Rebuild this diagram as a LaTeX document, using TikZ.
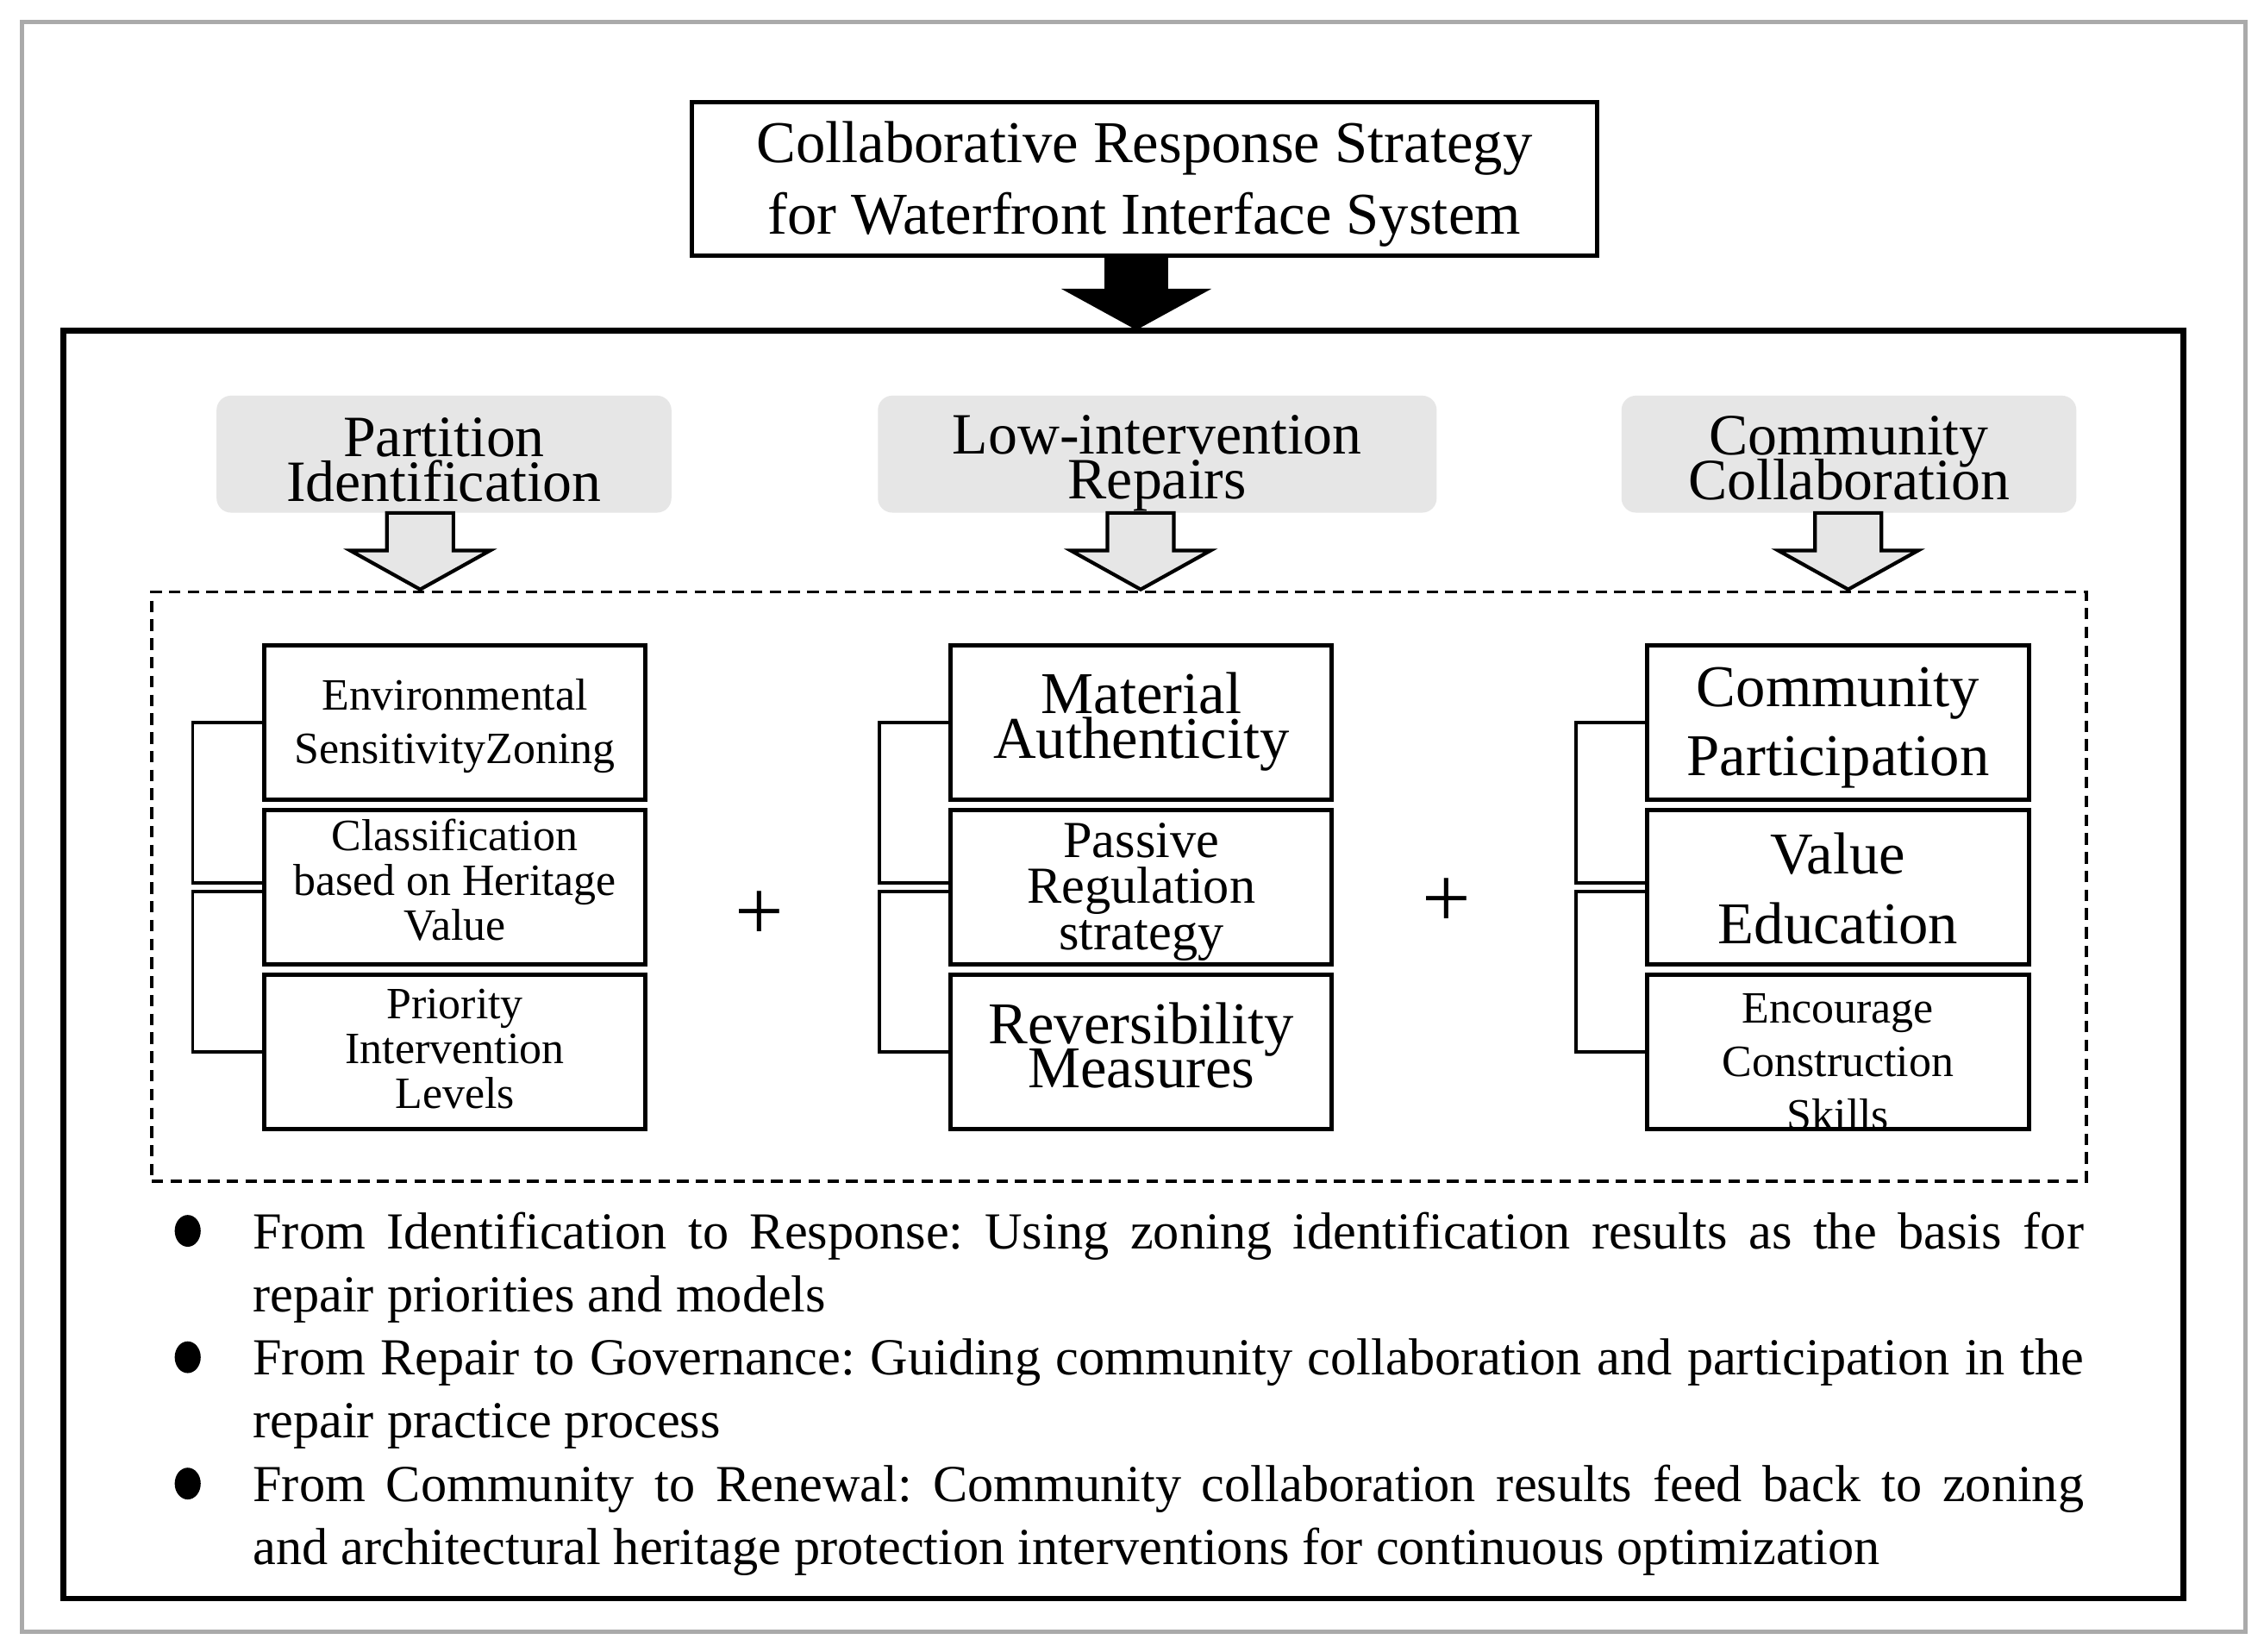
\documentclass[tikz,border=0pt]{standalone}
\usepackage{fontspec}
\setmainfont{Liberation Serif}
\usetikzlibrary{calc}
\definecolor{hdrgrey}{RGB}{230,230,230}
\definecolor{framegrey}{RGB}{170,170,170}
\begin{document}
\begin{tikzpicture}[x=1pt,y=-1pt,
  titlebox/.style={draw, line width=3pt, minimum width=627pt, minimum height=106pt, inner sep=0pt},
  hdr/.style={fill=hdrgrey, rounded corners=10pt, minimum height=81pt, inner sep=0pt},
  hdrtxt/.style={align=center, inner sep=0pt, font=\fontsize{40.5}{31}\selectfont},
  subbox/.style={draw, line width=3pt, minimum width=264pt, minimum height=107pt, inner sep=0pt},
  txt/.style={align=center, inner sep=0pt},
  brk/.style={line width=2.2pt},
  hollowarr/.style={draw, fill=hdrgrey, line width=2.5pt, line join=miter},
  plus/.style={font=\fontsize{60}{60}\selectfont, inner sep=0pt},
  item/.style={anchor=north west, inner sep=0pt, text width=1268pt, align=justify, font=\fontsize{36}{43.75}\selectfont\frenchspacing}
]
\lineskiplimit=-100pt
\useasboundingbox (0,0) rectangle (1568,1144);
\fill[white] (0,0) rectangle (1568,1144);
% outer grey frame
\draw[framegrey, line width=3pt] (15,15) rectangle (1555,1130);

% title
\node[titlebox] (title) at (792.5,124) {};
\node[txt, font=\fontsize{41}{50}\selectfont] (titletxt) at (792.5,127.5) {Collaborative Response Strategy\\for Waterfront Interface System};

% main box
\node[draw, line width=4pt, minimum width=1468pt, minimum height=878pt, inner sep=0pt] (main) at (778,668) {};

% big black arrow
\coordinate (ba) at ($(title.south)+(-5.5,-1.5)$);
\fill (ba) ++(-22,0) -- ++(0,23) -- ++(-30,0) -- ++(52,28.5) -- ++(52,-28.5) -- ++(-30,0) -- ++(0,-23) -- cycle;

% headers
\node[hdr, minimum width=315pt] (h1) at (307.5,314.5) {};
\node[hdr, minimum width=387pt] (h2) at (801.5,314.5) {};
\node[hdr, minimum width=315pt] (h3) at (1280.5,314.5) {};
\node[hdrtxt] (h1t) at ($(h1)+(0,4)$) {Partition\\Identification};
\node[hdrtxt] (h2t) at ($(h2)+(0,6.5)$) {Low-intervention\\Repairs};
\node[hdrtxt] (h3t) at ($(h3)+(0,3)$) {Community\\Collaboration};

% dashed group
\node[draw, dashed, line width=2pt, dash pattern=on 8pt off 5pt, minimum width=1340pt, minimum height=408pt, inner sep=0pt] (grp) at (775,614) {};

% hollow arrows
\foreach \h/\dx in {h1/-16.5, h2/-11.5, h3/-0.5}{
  \draw[hollowarr] ($(\h.south)+(\dx,0)$) ++(-23,0) -- ++(0,26) -- ++(-25.5,0) -- ++(48.5,27) -- ++(48.5,-27) -- ++(-25.5,0) -- ++(0,-26) -- cycle;
}

% boxes
\node[subbox] (e1) at (315,500.5) {};
\node[subbox] (e2) at (315,614.5) {};
\node[subbox] (e3) at (315,728.5) {};
\node[subbox] (m1) at (790.5,500.5) {};
\node[subbox] (m2) at (790.5,614.5) {};
\node[subbox] (m3) at (790.5,728.5) {};
\node[subbox] (c1) at (1273,500.5) {};
\node[subbox] (c2) at (1273,614.5) {};
\node[subbox] (c3) at (1273,728.5) {};

% box texts
\node[txt, font=\fontsize{31}{37}\selectfont] (e1t) at ($(e1)+(0,2.5)$) {Environmental\\SensitivityZoning};
\node[txt, font=\fontsize{31}{31}\selectfont] (e2t) at ($(e2)+(0,-5)$) {Classification\\based on Heritage\\Value};
\node[txt, font=\fontsize{31}{31}\selectfont] (e3t) at ($(e3)+(0,-2)$) {Priority\\Intervention\\Levels};
\node[txt, font=\fontsize{41}{31}\selectfont] (m1t) at ($(m1)+(0,-0.5)$) {Material\\Authenticity};
\node[txt, font=\fontsize{36}{32}\selectfont] (m2t) at ($(m2)+(0,3)$) {Passive\\Regulation\\strategy};
\node[txt, font=\fontsize{41}{31}\selectfont] (m3t) at ($(m3)+(0,-4.5)$) {Reversibility\\Measures};
\node[txt, font=\fontsize{41}{48}\selectfont] (c1t) at ($(c1)+(0,3.5)$) {Community\\Participation};
\node[txt, font=\fontsize{41}{48.5}\selectfont] (c2t) at ($(c2)+(0,1)$) {Value\\Education};
\node[txt, font=\fontsize{31}{37}\selectfont] (c3t) at ($(c3)+(0,7)$) {Encourage\\Construction\\Skills};

% brackets
\foreach \a/\b/\c in {e1/e2/e3, m1/m2/m3, c1/c2/c3}{
  \draw[brk] (\a.west) -- ++(-48,0) |- ($(\b.west)+(0,-3)$);
  \draw[brk] ($(\b.west)+(0,3)$) -- ++(-48,0) |- (\c.west);
}

% plus signs
\node[plus] (p1) at (526,634) {+};
\node[plus] (p2) at (1002,625) {+};

% bullet items
\node[item] (i1) at (175,839.4) {From Identification to Response: Using zoning identification results as the basis for\linebreak repair priorities and models};
\node[item] (i2) at (175,926.9) {From Repair to Governance: Guiding community collaboration and participation in the\linebreak repair practice process};
\node[item] (i3) at (175,1014.4) {From Community to Renewal: Community collaboration results feed back to zoning\linebreak and architectural heritage protection interventions for continuous optimization};
\foreach \i in {i1,i2,i3}{
  \fill ($(\i.north west)+(-45,13)$) ellipse [x radius=9, y radius=11];
}
\end{tikzpicture}
\end{document}
